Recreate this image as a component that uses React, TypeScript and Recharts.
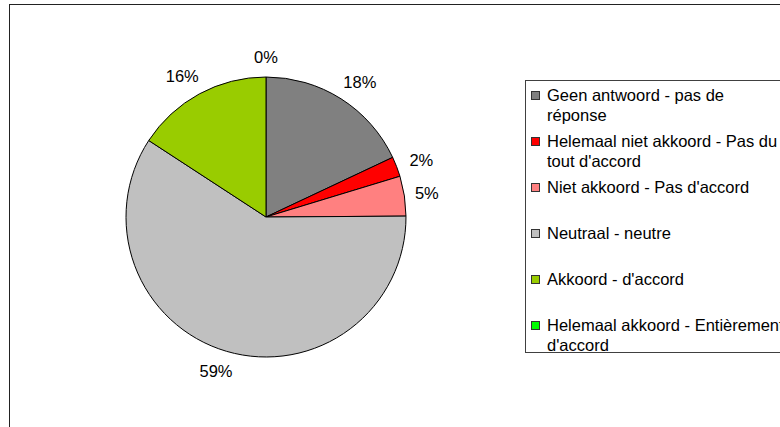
import { PieChart, Pie, Cell, Legend } from 'recharts';

const categories = [
  'Geen antwoord - pas de réponse',
  "Helemaal niet akkoord - Pas du tout d'accord",
  "Niet akkoord - Pas d'accord",
  'Neutraal - neutre',
  "Akkoord - d'accord",
  "Helemaal akkoord - Entièrement d'accord",
];
const values = [18.0, 2.3, 4.6, 59.3, 15.8, 0];
const colors = ['#808080', '#FF0000', '#FF8080', '#C0C0C0', '#99CC00', '#00FF00'];

const data = categories.map((name, i) => ({ name, value: values[i] }));

const FONT = '"Liberation Sans", Arial, sans-serif';
const FONT_SIZE = 16.5;
const RADIAN = Math.PI / 180;

// percent labels sit just outside the rim, pushed sideways a little like Excel does
const renderLabel = (props: any) => {
  const { cx, cy, midAngle, outerRadius, percent } = props;
  const cos = Math.cos(-midAngle * RADIAN);
  const sin = Math.sin(-midAngle * RADIAN);
  const r = outerRadius + 20;
  const x = cx + r * cos + 18 * cos * Math.abs(sin);
  const y = cy + r * sin;
  return (
    <text x={x} y={y} textAnchor="middle" dominantBaseline="central" fill="#000" fontSize={FONT_SIZE} fontFamily={FONT}>
      {`${Math.round(percent * 100)}%`}
    </text>
  );
};

// legend drawn in the original series order (recharts would sort it by name)
const renderLegend = () => (
  <div style={{ border: '1px solid #404040', width: 290, height: 273, boxSizing: 'border-box', paddingTop: 4, background: '#fff' }}>
    {categories.map((name, i) => (
      <div key={name} style={{ height: 46, display: 'flex', alignItems: 'flex-start', fontFamily: FONT, fontSize: FONT_SIZE, lineHeight: '20px', color: '#000' }}>
        <div style={{ width: 9, height: 9, boxSizing: 'border-box', border: '1px solid #333', background: colors[i], marginLeft: 5, marginTop: 6, marginRight: 7, flexShrink: 0 }} />
        <div style={{ width: '14.45em' }}>{name}</div>
      </div>
    ))}
  </div>
);

export default function App() {
  return (
    <div style={{ position: 'absolute', left: 0, top: 0, width: 780, height: 427, overflow: 'hidden', background: '#fff' }}>
      <div style={{ position: 'absolute', left: 9, top: 4, width: 900, height: 600, border: '1px solid #222' }} />
      <div style={{ position: 'absolute', left: 0, top: 0 }}>
        <PieChart width={780} height={427} margin={{ top: 0, right: 0, bottom: 0, left: 0 }}>
          <Pie
            data={data}
            dataKey="value"
            nameKey="name"
            cx={266}
            cy={217}
            outerRadius={140}
            startAngle={90}
            endAngle={-270}
            stroke="#000"
            strokeWidth={1}
            label={renderLabel}
            labelLine={false}
            isAnimationActive={false}
          >
            {data.map((_, i) => (
              <Cell key={i} fill={colors[i]} />
            ))}
          </Pie>
          <Legend
            layout="vertical"
            content={renderLegend}
            wrapperStyle={{ position: 'absolute', left: 525, top: 80, width: 290 }}
          />
        </PieChart>
      </div>
    </div>
  );
}
